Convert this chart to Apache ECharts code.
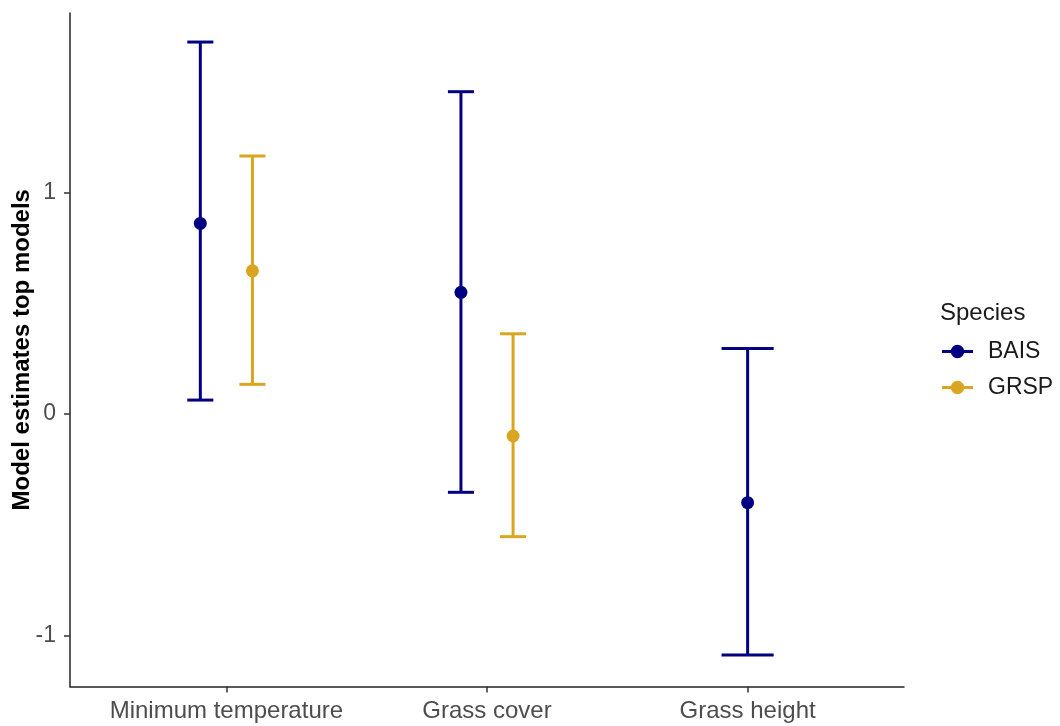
<!DOCTYPE html>
<html>
<head>
<meta charset="utf-8">
<script src="https://cdn.jsdelivr.net/npm/echarts@6/dist/echarts.min.js"></script>
<style>
html,body{margin:0;padding:0;background:#fff;}
#chart{width:1060px;height:726px;}
</style>
</head>
<body>
<div id="chart"></div>
<script>
const categories = ['Minimum temperature', 'Grass cover', 'Grass height'];
const speciesNames = ['BAIS', 'GRSP'];
const speciesColors = ['#000080', '#DAA520'];
const baisEstimate = [0.860, 0.549, -0.400];
const baisLower = [0.063, -0.353, -1.087];
const baisUpper = [1.678, 1.454, 0.296];
const grspEstimate = [0.646, -0.099, null];
const grspLower = [0.134, -0.553, null];
const grspUpper = [1.164, 0.362, null];
const yTicks = [-1, 0, 1];
const xTicks = [1, 2, 3];

const FONT = '"Liberation Sans", Arial, sans-serif';
const estimates = [baisEstimate, grspEstimate];
const lowers = [baisLower, grspLower];
const uppers = [baisUpper, grspUpper];
const dodgeWidth = 0.4, barWidth = 0.2;

function buildData(s) {
  const out = [];
  categories.forEach((c, i) => {
    const present = [];
    for (let j = 0; j < speciesNames.length; j++) if (estimates[j][i] != null) present.push(j);
    const k = present.indexOf(s);
    if (k < 0) return;
    const n = present.length;
    const offset = -dodgeWidth / 2 + dodgeWidth / n * (k + 0.5);
    out.push([i + 1, estimates[s][i], lowers[s][i], uppers[s][i], offset, barWidth / n]);
  });
  return out;
}

function renderItem(params, api) {
  const x = api.value(0) + api.value(4);
  const top = api.coord([x, api.value(3)]);
  const bot = api.coord([x, api.value(2)]);
  const mid = api.coord([x, api.value(1)]);
  const hw = api.size([api.value(5), 0])[0] / 2;
  const color = api.visual('color');
  const ls = { stroke: color, lineWidth: 3 };
  return {
    type: 'group',
    children: [
      { type: 'line', shape: { x1: top[0], y1: top[1], x2: bot[0], y2: bot[1] }, style: ls },
      { type: 'line', shape: { x1: top[0] - hw, y1: top[1], x2: top[0] + hw, y2: top[1] }, style: ls },
      { type: 'line', shape: { x1: bot[0] - hw, y1: bot[1], x2: bot[0] + hw, y2: bot[1] }, style: ls },
      { type: 'circle', shape: { cx: mid[0], cy: mid[1], r: 6.5 }, style: { fill: color } }
    ]
  };
}

const keyIcon = 'path://M0,5.5L30,5.5L30,8.5L0,8.5Z M8.5,7A6.5,6.5 0 1,1 21.5,7A6.5,6.5 0 1,1 8.5,7Z';

const chart = echarts.init(document.getElementById('chart'), null, { renderer: 'canvas' });
chart.setOption({
  animation: false,
  backgroundColor: '#ffffff',
  title: {
    text: 'Species', left: 940, top: 301, padding: 0,
    textStyle: { fontFamily: FONT, fontSize: 24, fontWeight: 'normal', color: '#1a1a1a' }
  },
  legend: {
    orient: 'vertical', left: 942, top: 340, padding: 0,
    itemWidth: 31, itemHeight: 14, itemGap: 13,
    data: speciesNames.map(n => ({ name: n, icon: keyIcon })),
    textStyle: { fontFamily: FONT, fontSize: 23, color: '#1a1a1a', padding: [0, 0, 0, 10] }
  },
  grid: { left: 70, right: 156, top: 13, bottom: 39.5, outerBoundsMode: 'none', containLabel: false },
  xAxis: {
    type: 'value', min: 0.4, max: 3.6,
    axisLine: { show: true, onZero: false, lineStyle: { color: '#222', width: 1.5 } },
    axisTick: { show: true, customValues: xTicks, length: 6, lineStyle: { color: '#333', width: 1.5 } },
    axisLabel: {
      customValues: xTicks, margin: 13,
      formatter: v => categories[Math.round(v) - 1],
      fontFamily: FONT, fontSize: 24, color: '#4D4D4D'
    },
    splitLine: { show: false }
  },
  yAxis: {
    type: 'value', min: -1.229, max: 1.809,
    name: 'Model estimates top models', nameLocation: 'middle', nameRotate: 90, nameGap: 36,
    nameMoveOverlap: false,
    nameTextStyle: { fontFamily: FONT, fontSize: 24, fontWeight: 'bold', color: '#000' },
    axisLine: { show: true, onZero: false, lineStyle: { color: '#222', width: 1.5 } },
    axisTick: { show: true, customValues: yTicks, length: 6, lineStyle: { color: '#333', width: 1.5 } },
    axisLabel: {
      customValues: yTicks, margin: 14,
      fontFamily: FONT, fontSize: 23, color: '#4D4D4D'
    },
    splitLine: { show: false }
  },
  series: speciesNames.map((n, s) => ({
    name: n, type: 'custom', renderItem: renderItem,
    itemStyle: { color: speciesColors[s] },
    encode: { x: 0, y: [1, 2, 3] },
    data: buildData(s)
  }))
});
</script>
</body>
</html>
